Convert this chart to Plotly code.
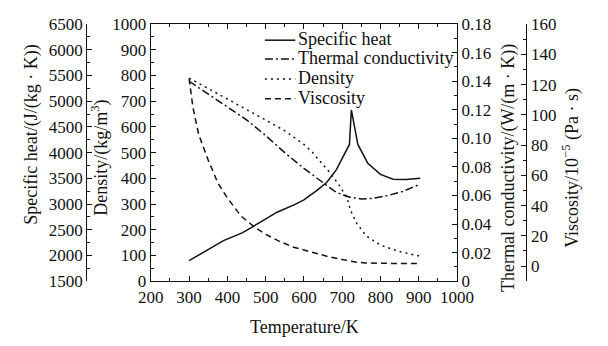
import plotly.graph_objects as go

# ---------------- data ----------------
temp_cp = [300, 350, 390, 440, 468, 500, 530, 577, 600, 635, 660, 685, 705, 719, 724, 741, 767, 800, 833, 867, 904]
cp = [1900, 2110, 2290, 2443, 2566, 2700, 2842, 2995, 3080, 3270, 3425, 3669, 3976, 4160, 4830, 4160, 3792, 3577, 3485, 3480, 3504]

temp_k = [300, 350, 400, 450, 500, 550, 600, 650, 680, 700, 720, 750, 780, 820, 860, 904]
k = [0.140, 0.131, 0.122, 0.113, 0.102, 0.090, 0.079, 0.069, 0.063, 0.0605, 0.0588, 0.0576, 0.0580, 0.0600, 0.0630, 0.0680]

temp_rho = [300, 350, 400, 450, 500, 550, 600, 620, 635, 668, 693, 713, 722, 738, 763, 800, 850, 904]
rho = [790, 750, 710, 668, 627, 585, 532, 505, 478, 422, 372, 324, 275, 225, 176, 140, 115, 97]

temp_mu = [300, 310, 325, 350, 375, 400, 436, 470, 500, 535, 570, 620, 660, 700, 734, 760, 800, 850, 900]
mu = [124, 105, 87, 70, 55, 45, 33, 26, 21, 16.5, 12.7, 9, 6.5, 4.4, 2.7, 2.0, 1.7, 1.7, 1.7]

k_ticks = [0, 0.02, 0.04, 0.06, 0.08, 0.10, 0.12, 0.14, 0.16, 0.18]
k_tick_labels = ["0", "0.02", "0.04", "0.06", "0.08", "0.10", "0.12", "0.14", "0.16", "0.18"]

names = ["Specific heat", "Thermal conductivity", "Density", "Viscosity"]

# ---------------- style ----------------
W, H = 608, 346
FONT = "'Liberation Serif', 'Times New Roman', Times, 'DejaVu Serif', serif"
INK = "#111111"
LW = 1.5
DASH = {"Specific heat": "solid",
        "Thermal conductivity": "8px,3px,2px,3px",
        "Density": "2px,4px",
        "Viscosity": "6px,4px"}

def px(xp):
    return xp / W

def py(yp):
    return 1 - yp / H

fig = go.Figure()
fig.add_trace(go.Scatter(x=temp_cp, y=cp, yaxis="y2", mode="lines", name=names[0],
                         line=dict(color=INK, width=LW, dash=DASH[names[0]])))
fig.add_trace(go.Scatter(x=temp_k, y=k, yaxis="y3", mode="lines", name=names[1],
                         line=dict(color=INK, width=LW, dash=DASH[names[1]])))
fig.add_trace(go.Scatter(x=temp_rho, y=rho, yaxis="y", mode="lines", name=names[2],
                         line=dict(color=INK, width=LW, dash=DASH[names[2]])))
fig.add_trace(go.Scatter(x=temp_mu, y=mu, yaxis="y4", mode="lines", name=names[3],
                         line=dict(color=INK, width=LW, dash=DASH[names[3]])))

tickfont = dict(family=FONT, size=17, color=INK)
common = dict(showline=True, linecolor=INK, linewidth=1.3, ticks="inside", ticklen=5,
              tickwidth=1.2, tickcolor=INK, showgrid=False, zeroline=False, tickfont=tickfont)
minor = lambda d: dict(dtick=d, ticks="inside", ticklen=3, tickcolor=INK, tickwidth=1.1)
ydom = [py(288), py(16)]

fig.update_layout(
    width=W, height=H,
    margin=dict(l=0, r=0, t=0, b=0),
    paper_bgcolor="white", plot_bgcolor="white",
    showlegend=False,
    font=dict(family=FONT, color=INK),
    xaxis=dict(domain=[px(145), px(467)], range=[200, 1000], dtick=100, tick0=200,
               mirror="ticks", minor=minor(50), **common),
    yaxis=dict(domain=ydom, range=[0, 1000], dtick=100, side="left", anchor="x",
               minor=minor(50), **common),
    yaxis2=dict(domain=ydom, range=[1500, 6500], dtick=500, tick0=1500, side="left",
                overlaying="y", anchor="free", position=px(77), minor=minor(250), **common),
    yaxis3=dict(domain=ydom, range=[0, 0.18], tickvals=k_ticks, ticktext=k_tick_labels,
                side="right", overlaying="y", anchor="x", minor=minor(0.01), **common),
    yaxis4=dict(domain=ydom, range=[-10, 160], dtick=20, tick0=0, side="right",
                overlaying="y", anchor="free", position=px(540), minor=minor(10), **common),
)

tfont = dict(family=FONT, size=18, color=INK)
titles = [
    ("Specific heat/(J/(kg · K))", 20, 133, -90),
    ("Density/(kg/m<sup>3</sup>)", 92, 157, -90),
    ("Thermal conductivity/(W/(m · K))", 521, 168, -90),
    ("Viscosity/10<sup>−5</sup> (Pa · s)", 587, 168, -90),
    ("Temperature/K", 307, 337, 0),
]
for text, xp, yp, ang in titles:
    fig.add_annotation(text=text, x=px(xp), y=py(yp), xref="paper", yref="paper",
                       showarrow=False, textangle=ang, font=tfont,
                       xanchor="center", yanchor="middle")

# manual legend (line sample + label)
leg_rows = [32, 52, 73, 94]
for name, yp in zip(names, leg_rows):
    fig.add_shape(type="line", xref="paper", yref="paper",
                  x0=px(265), x1=px(297), y0=py(yp + 1), y1=py(yp + 1),
                  line=dict(color=INK, width=LW, dash=DASH[name]))
    fig.add_annotation(text=name, x=px(298), y=py(yp), xref="paper", yref="paper",
                       showarrow=False, font=tfont, xanchor="left", yanchor="middle")

fig.write_html("out.html")
